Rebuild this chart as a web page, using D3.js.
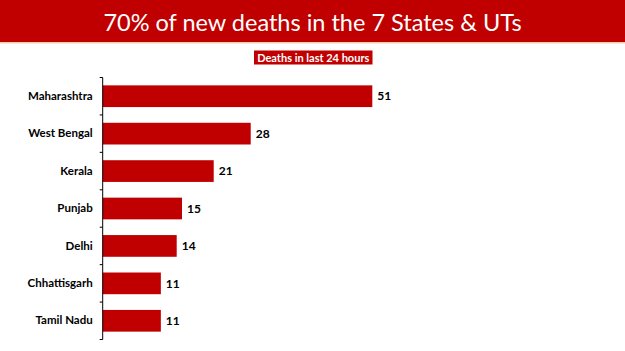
<!DOCTYPE html>
<html><head><meta charset="utf-8">
<script src="https://cdn.jsdelivr.net/npm/d3@7"></script>
<style>body{margin:0;background:#fff}svg{display:block}</style>
</head><body><svg id="c" width="625" height="351"></svg>
<script>
const title = "70% of new deaths in the 7 States & UTs";
const seriesName = "Deaths in last 24 hours";
const categories = ["Maharashtra","West Bengal","Kerala","Punjab","Delhi","Chhattisgarh","Tamil Nadu"];
const values = [51,28,21,15,14,11,11];

const svg = d3.select("#c");
const red = "#C00000";
svg.append("rect").attr("x",0).attr("y",0).attr("width",625).attr("height",42).attr("fill",red);
svg.append("rect").attr("x",0).attr("y",42).attr("width",625).attr("height",1.5).attr("fill","#F8CBAD");
svg.append("text").attr("x",312.5).attr("y",30.5).attr("text-anchor","middle")
  .attr("fill","#fff").attr("font-family","Lato, 'Open Sans', sans-serif").attr("font-size",23.5)
  .text(title);

// legend
const lg = svg.append("g");
lg.append("rect").attr("x",254).attr("y",50.5).attr("width",118.5).attr("height",14).attr("fill",red);
lg.append("text").attr("x",313.25).attr("y",61.5).attr("text-anchor","middle").attr("fill","#fff")
  .attr("font-family","Lato, 'Open Sans', sans-serif").attr("font-weight","bold").attr("font-size",11)
  .text(seriesName);

const x0 = 102.7;
const x = d3.scaleLinear().domain([0,51]).range([x0, 372.3]);
const y = d3.scaleBand().domain(categories).range([77.5,339.5]).paddingInner(0.42).paddingOuter(0.21);

const g = svg.append("g");
g.selectAll("rect.bar").data(values).join("rect").attr("class","bar")
  .attr("x",x(0)).attr("y",(d,i)=>y(categories[i]))
  .attr("width",d=>x(d)-x(0)).attr("height",y.bandwidth()).attr("fill",red);

g.selectAll("text.val").data(values).join("text").attr("class","val")
  .attr("x",d=>x(d)+5).attr("y",(d,i)=>y(categories[i])+y.bandwidth()/2)
  .attr("dy","0.35em").attr("font-family","Lato, 'Open Sans', sans-serif")
  .attr("font-weight","bold").attr("font-size",12).attr("fill","#000").text(d=>d);

// axis with ticks between categories
const axisG = svg.append("g").attr("transform",`translate(${x0},0)`);
const yAxis = d3.axisLeft(y).tickSize(0).tickPadding(10);
axisG.call(yAxis);
axisG.select(".domain").remove();
axisG.selectAll(".tick text").attr("font-family","Lato, 'Open Sans', sans-serif")
  .attr("font-weight","bold").attr("font-size",11.5).attr("fill","#000");
axisG.append("line").attr("x1",0).attr("x2",0).attr("y1",77.5).attr("y2",339.5)
  .attr("stroke","#000").attr("stroke-width",1);
const bounds = d3.range(categories.length+1).map(i=>77.5 + i*(262/categories.length));
axisG.selectAll("line.tk").data(bounds).join("line").attr("class","tk")
  .attr("x1",-3).attr("x2",0).attr("y1",d=>d).attr("y2",d=>d)
  .attr("stroke","#000").attr("stroke-width",1);
</script></body></html>
